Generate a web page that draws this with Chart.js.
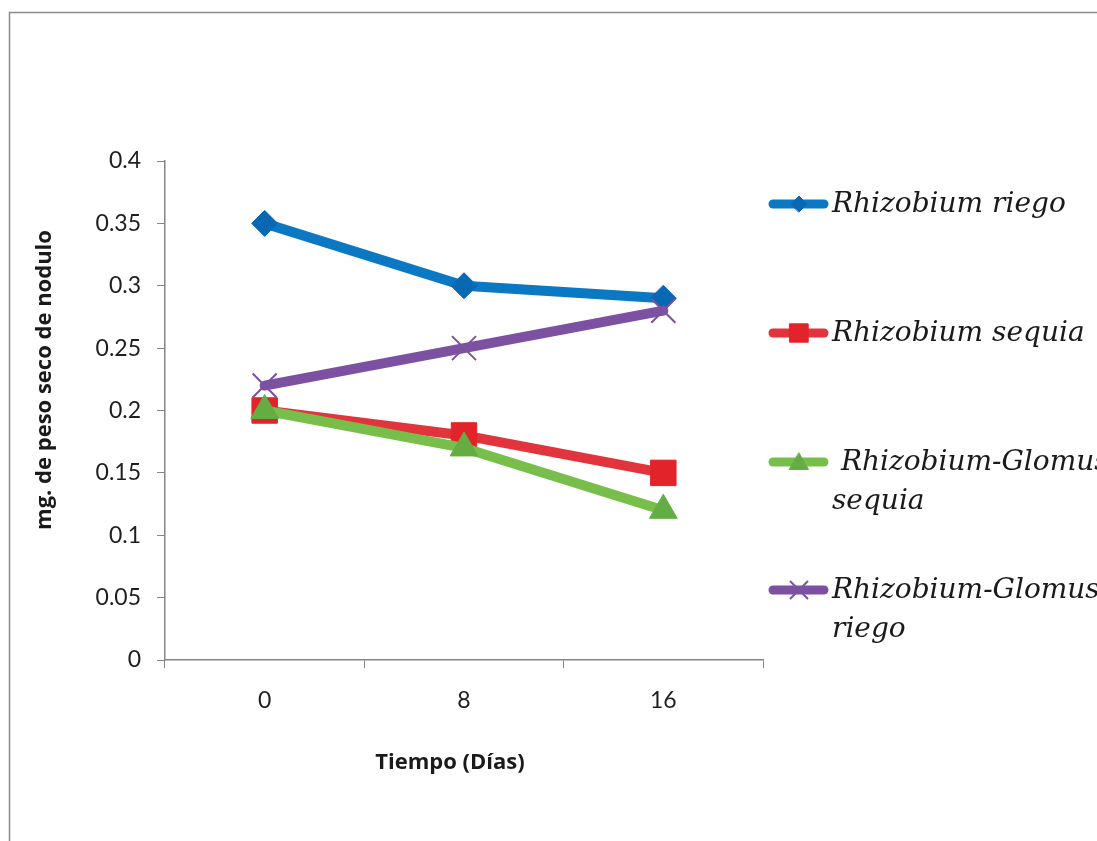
<!DOCTYPE html>
<html>
<head>
<meta charset="utf-8">
<script src="https://cdn.jsdelivr.net/npm/chart.js@4/dist/chart.umd.min.js"></script>
<style>
  html, body { margin: 0; padding: 0; background: #ffffff; }
  #wrap { position: relative; width: 1097px; height: 841px; }
</style>
</head>
<body>
<div id="wrap"><canvas id="chart" width="1097" height="841"></canvas></div>
<script>
// Days after treatment
const dias = ['0', '8', '16'];

// Nodule dry weight (mg) per treatment
const rhizobiumRiego = [0.35, 0.30, 0.29];
const rhizobiumSequia = [0.20, 0.18, 0.15];
const rhizobiumGlomusSequia = [0.20, 0.17, 0.12];
const rhizobiumGlomusRiego = [0.22, 0.25, 0.28];

const seriesNames = ['Rhizobium riego', 'Rhizobium sequia', 'Rhizobium-Glomus sequia', 'Rhizobium-Glomus riego'];
// Legend text, already broken into lines
const legendLines = [
  ['Rhizobium riego'],
  ['Rhizobium sequia'],
  [' Rhizobium-Glomus', 'sequia'],
  ['Rhizobium-Glomus', 'riego']
];

const yTicks = [0, 0.05, 0.1, 0.15, 0.2, 0.25, 0.3, 0.35, 0.4];
const xTitle = 'Tiempo (Días)';
const yTitle = 'mg. de peso seco de nodulo';

const colors = {
  blue: '#0a78c2', blueMark: '#0868b4',
  red: '#e2343c', redMark: '#e3232a',
  green: '#77bf4a', greenMark: '#63ad43',
  purple: '#7d51a1', purpleMark: '#7d51a1'
};

// Marker radius on the plot and in the legend
const markerStyles = [
  { style: 'rectRot', radius: 13, legendRadius: 8 },
  { style: 'rect', radius: 18, legendRadius: 13 },
  { style: 'triangle', radius: 16, legendRadius: 11 },
  { style: 'crossRot', radius: 17, legendRadius: 12 }
];

const datasets = [
  { label: seriesNames[0], data: rhizobiumRiego, borderColor: colors.blue, backgroundColor: colors.blueMark,
    pointBorderColor: colors.blueMark, order: 3 },
  { label: seriesNames[1], data: rhizobiumSequia, borderColor: colors.red, backgroundColor: colors.redMark,
    pointBorderColor: colors.redMark, order: 2 },
  { label: seriesNames[2], data: rhizobiumGlomusSequia, borderColor: colors.green, backgroundColor: colors.greenMark,
    pointBorderColor: colors.greenMark, order: 1 },
  { label: seriesNames[3], data: rhizobiumGlomusRiego, borderColor: colors.purple, backgroundColor: colors.purpleMark,
    pointBorderColor: colors.purpleMark, order: 0 }
];
datasets.forEach((d, i) => {
  const m = markerStyles[i];
  d.pointStyle = m.style;
  d.pointRadius = m.radius;
  d.pointHoverRadius = m.radius;
  d.pointBorderWidth = m.style === 'crossRot' ? 2 : 1;
  d.borderWidth = 10;
  d.tension = 0;
  d.fill = false;
  d.borderCapStyle = 'round';
  d.borderJoinStyle = 'round';
});

// Outer frame around the chart
const framePlugin = {
  id: 'frame',
  beforeDraw(chart) {
    const ctx = chart.ctx;
    ctx.save();
    ctx.fillStyle = '#ffffff';
    ctx.fillRect(0, 0, chart.width, chart.height);
    ctx.strokeStyle = '#8c8c8c';
    ctx.lineWidth = 1.5;
    ctx.beginPath();
    ctx.moveTo(9.5, chart.height + 5);
    ctx.lineTo(9.5, 12.5);
    ctx.lineTo(chart.width + 5, 12.5);
    ctx.stroke();
    ctx.restore();
  }
};

// Axis titles
const axisTitles = {
  id: 'axisTitles',
  afterDraw(chart) {
    const ctx = chart.ctx;
    ctx.save();
    ctx.fillStyle = '#1a1a1a';
    ctx.font = 'bold 22px "Open Sans"';
    ctx.textAlign = 'center';
    ctx.textBaseline = 'middle';
    ctx.fillText(xTitle, 450, 763);
    ctx.translate(45, 380);
    ctx.rotate(-Math.PI / 2);
    ctx.fillText(yTitle, 0, 0);
    ctx.restore();
  }
};

// Legend on the right with a line sample and marker per series
const sideLegend = {
  id: 'sideLegend',
  afterDraw(chart) {
    const ctx = chart.ctx;
    const rowY = [204, 333, 462, 590];
    const x0 = 773, x1 = 824, xm = 799, tx = 832;
    ctx.save();
    chart.data.datasets.forEach((ds, i) => {
      const y = rowY[i];
      const m = markerStyles[i];
      ctx.strokeStyle = ds.borderColor;
      ctx.lineWidth = 9;
      ctx.lineCap = 'round';
      ctx.beginPath();
      ctx.moveTo(x0, y);
      ctx.lineTo(x1, y);
      ctx.stroke();
      ctx.fillStyle = ds.backgroundColor;
      ctx.strokeStyle = ds.pointBorderColor;
      ctx.lineWidth = m.style === 'crossRot' ? 2 : 1;
      Chart.helpers.drawPoint(ctx, {
        pointStyle: m.style,
        radius: m.legendRadius,
        borderWidth: ctx.lineWidth,
        rotation: 0
      }, xm, m.style === 'triangle' ? y + 2 : y);
      ctx.fillStyle = '#1a1a1a';
      ctx.font = 'italic 28px "DejaVu Serif"';
      ctx.textBaseline = 'middle';
      ctx.textAlign = 'left';
      legendLines[i].forEach((line, k) => {
        ctx.fillText(line, tx, y + 1 + k * 39);
      });
    });
    ctx.restore();
  }
};

new Chart(document.getElementById('chart'), {
  type: 'line',
  data: { labels: dias, datasets },
  options: {
    responsive: false,
    animation: false,
    events: [],
    layout: { padding: { left: 0, top: 161, right: 334, bottom: 0 } },
    plugins: { legend: { display: false }, tooltip: { enabled: false } },
    scales: {
      x: {
        offset: true,
        grid: { display: true, offset: true, drawOnChartArea: false, drawTicks: true, tickLength: 8, color: '#868686', lineWidth: 1 },
        border: { display: true, color: '#868686', width: 1.5 },
        ticks: { color: '#1e1e1e', font: { family: 'Lato', size: 23 }, padding: 19 },
        title: { display: false },
        afterFit(scale) { scale.height = 181; }
      },
      y: {
        min: 0, max: 0.4,
        afterBuildTicks(scale) { scale.ticks = yTicks.map(v => ({ value: v })); },
        grid: { display: true, drawOnChartArea: false, drawTicks: true, tickLength: 8, color: '#868686', lineWidth: 1 },
        border: { display: true, color: '#868686', width: 1.5 },
        ticks: { color: '#1e1e1e', font: { family: 'Lato', size: 23 }, padding: 16,
          callback: v => String(+v.toFixed(2)) },
        title: { display: false },
        afterFit(scale) { scale.width = 165; }
      }
    }
  },
  plugins: [framePlugin, axisTitles, sideLegend]
});
</script>
</body>
</html>
